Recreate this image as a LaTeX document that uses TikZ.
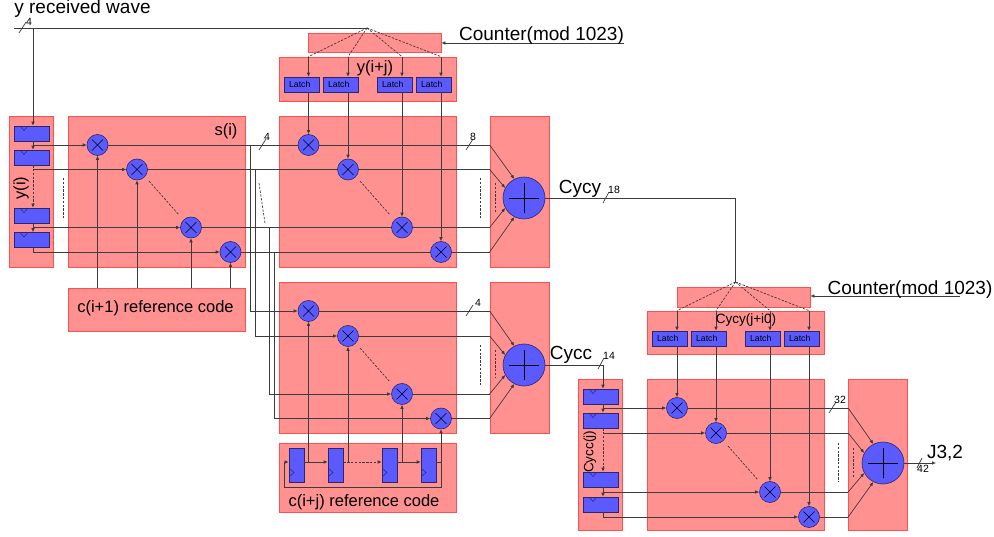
\documentclass[tikz,border=0pt]{standalone}
\usepackage{fontspec}
\setmainfont{Liberation Sans}
\usepackage{xcolor}
\usetikzlibrary{arrows.meta,calc}
\definecolor{blockred}{RGB}{255,145,145}
\definecolor{blockedge}{RGB}{255,80,80}
\definecolor{partblue}{RGB}{90,90,255}
\definecolor{partedge}{RGB}{40,40,110}
\definecolor{wirecol}{RGB}{60,60,60}
\tikzset{
	block/.style={draw=blockedge,fill=blockred,line width=0.7pt,inner sep=0pt},
	wideblock/.style={block,minimum width=177pt,minimum height=151pt},
	sumblock/.style={block,minimum width=59pt,minimum height=151pt},
	stackblock/.style={block,minimum width=44pt,minimum height=151pt},
	part/.style={draw=partedge,fill=partblue,line width=0.6pt,inner sep=0pt},
	latch/.style={part,minimum width=35pt,minimum height=15pt,font=\fontsize{8.7}{9}\selectfont,execute at end node=\hspace*{3.5pt}},
	notchreg/.style={part,minimum width=35pt,minimum height=15pt,
		path picture={\draw[partedge,line width=0.5pt] ($(path picture bounding box.north west)+(6pt,0pt)$) -- ($(path picture bounding box.north west)+(10pt,-4.5pt)$) -- ($(path picture bounding box.north west)+(14pt,0pt)$);}},
	clockreg/.style={part,minimum width=15pt,minimum height=34pt,
		path picture={\draw[partedge,line width=0.5pt] ($(path picture bounding box.south west)+(0pt,14pt)$) -- ($(path picture bounding box.south west)+(5pt,9.5pt)$) -- ($(path picture bounding box.south west)+(0pt,5pt)$);}},
	mult/.style={part,circle,minimum size=21pt,
		path picture={\draw[black,line width=0.6pt,shift={(path picture bounding box.center)}] (-5.5pt,-5.5pt) -- (5.5pt,5.5pt) (-5.5pt,5.5pt) -- (5.5pt,-5.5pt);}},
	summer/.style={part,circle,minimum size=42pt,
		path picture={\draw[black,line width=0.8pt,shift={(path picture bounding box.center)}] (-15pt,0pt) -- (15pt,0pt) (0pt,-15pt) -- (0pt,15pt);}},
	wire/.style={draw=wirecol,line width=0.7pt},
	dotwire/.style={wire,dash pattern=on 2.4pt off 1.4pt},
	arr/.style={wire,-{Latex[length=4pt,width=3.6pt]}},
	dotarr/.style={dotwire,-{Latex[length=4pt,width=3.6pt]}},
	biglabel/.style={inner sep=0pt,font=\fontsize{19}{19}\selectfont},
	midlabel/.style={inner sep=0pt,font=\fontsize{16.5}{17}\selectfont},
	smalllabel/.style={inner sep=0pt,font=\fontsize{13.5}{14}\selectfont},
	numlabel/.style={inner sep=0pt,font=\fontsize{10.5}{11}\selectfont}
}

\begin{document}
\begin{tikzpicture}[x=1pt,y=-1pt]
			\useasboundingbox (0,0) rectangle (994,537);
			\node[stackblock] (BYI) at (31,191.5) {};
			\node[wideblock] (BSI) at (156.5,191.5) {};
			\node[block,minimum width=177pt,minimum height=43pt] (BCA) at (156.5,309.5) {};
			\node[block,minimum width=133pt,minimum height=19pt] (BCTA) at (374.5,42.5) {};
			\node[block,minimum width=177pt,minimum height=44pt] (BYJ) at (367.5,79) {};
			\node[wideblock] (BMB) at (367.5,191.5) {};
			\node[sumblock] (BSB) at (519.5,191.5) {};
			\node[wideblock] (BMC) at (367.5,357.5) {};
			\node[sumblock] (BSC) at (519.5,357.5) {};
			\node[block,minimum width=177pt,minimum height=69pt] (BCB) at (367.5,477.5) {};
			\node[block,minimum width=133pt,minimum height=20pt] (BCTB) at (743.5,297) {};
			\node[block,minimum width=177pt,minimum height=43pt] (BYK) at (735.5,332.5) {};
			\node[stackblock] (BCC) at (600.5,455) {};
			\node[wideblock] (BMD) at (735.5,455) {};
			\node[sumblock] (BSD) at (878,455) {};

			\node[notchreg] (RA1) at (31.5,133.5) {};
			\node[notchreg] (RA2) at (31.5,157.5) {};
			\node[notchreg] (RA3) at (31.5,215.5) {};
			\node[notchreg] (RA4) at (31.5,240) {};
			\node[notchreg] (RD1) at (600.5,396.5) {};
			\node[notchreg] (RD2) at (600.5,420.5) {};
			\node[notchreg] (RD3) at (600.5,479.5) {};
			\node[notchreg] (RD4) at (600.5,504.5) {};

			\node[latch] (LB1) at (301.5,84.5) {Latch};
			\node[latch] (LB2) at (340.5,84.5) {Latch};
			\node[latch] (LB3) at (394.5,84.5) {Latch};
			\node[latch] (LB4) at (433.5,84.5) {Latch};
			\node[latch] (LD1) at (669.5,338.5) {Latch};
			\node[latch] (LD2) at (708.5,338.5) {Latch};
			\node[latch] (LD3) at (762.5,338.5) {Latch};
			\node[latch] (LD4) at (801.5,338.5) {Latch};

			\node[clockreg] (FC1) at (296.5,465) {};
			\node[clockreg] (FC2) at (335.5,465) {};
			\node[clockreg] (FC3) at (389.5,465) {};
			\node[clockreg] (FC4) at (428.5,465) {};

			\node[mult] (MA1) at (97.5,145) {};
			\node[mult] (MA2) at (137,169.5) {};
			\node[mult] (MA3) at (191,227.5) {};
			\node[mult] (MA4) at (230.5,252) {};
			\node[mult] (MB1) at (308.5,145) {};
			\node[mult] (MB2) at (348,169.5) {};
			\node[mult] (MB3) at (402,227.5) {};
			\node[mult] (MB4) at (441,252) {};
			\node[mult] (MC1) at (308.5,311) {};
			\node[mult] (MC2) at (348,336) {};
			\node[mult] (MC3) at (402,394) {};
			\node[mult] (MC4) at (441,418.5) {};
			\node[mult] (MD1) at (677,408) {};
			\node[mult] (MD2) at (716,433) {};
			\node[mult] (MD3) at (770,492) {};
			\node[mult] (MD4) at (809,517) {};

			\node[summer] (SB) at (524,198) {};
			\node[summer] (SC) at (524,365) {};
			\node[summer] (SD) at (883,463) {};

			\coordinate (TL) at (14,28);
			\coordinate (TA) at (33,28);
			\coordinate (FB) at (367,28);
			\coordinate (TD) at (603,365);
			\coordinate (FD) at (735.5,282);
			\coordinate (CY) at (735.5,198);
			\coordinate (CTA) at (624,43);
			\coordinate (CTB) at (960,296);
			\coordinate (VA) at (250,145);
			\coordinate (VB) at (255,169.5);
			\coordinate (VC) at (269.5,227.5);
			\coordinate (VD) at (274.5,252);
			\coordinate (YF) at (284,462);
			\coordinate (YB) at (284,487);
			\coordinate (JO) at (936,463);

			\draw[wire] (TL) -- (FB);
			\draw[arr] (TA) -- (TA |- RA1.north);
			\draw[arr] (TA |- RA1.south) -- (TA |- RA2.north);
			\draw[dotarr] (TA |- RA2.south) -- (TA |- RA3.north);
			\draw[arr] (TA |- RA3.south) -- (TA |- RA4.north);
			\draw[arr] (TA |- MA1) -- (MA1);
			\draw[arr] (TA |- MA2) -- (MA2);
			\draw[arr] (TA |- MA3) -- (MA3);
			\draw[arr] (TA |- RA4.south) |- (MA4);

			\draw[arr] (MA1 |- BCA.north) -- (MA1);
			\draw[arr] (MA2 |- BCA.north) -- (MA2);
			\draw[arr] (MA3 |- BCA.north) -- (MA3);
			\draw[arr] (MA4 |- BCA.north) -- (MA4);

			\draw[wire] (MA1) -- (MB1);
			\draw[wire] (MA2) -- (MB2);
			\draw[wire] (MA3) -- (MB3);
			\draw[wire] (MA4) -- (MB4);
			\draw[arr] (VA) |- (MC1);
			\draw[arr] (VB) |- (MC2);
			\draw[arr] (VC) |- (MC3);
			\draw[arr] (VD) |- (MC4);

			\draw[dotwire] (FB) -- (MB1 |- BYJ.north);
			\draw[dotwire] (FB) -- (MB2 |- BYJ.north);
			\draw[dotwire] (FB) -- (MB3 |- BYJ.north);
			\draw[dotwire] (FB) -- (MB4 |- BYJ.north);
			\draw[arr] (MB1 |- BYJ.north) -- (MB1 |- LB1.north);
			\draw[arr] (MB2 |- BYJ.north) -- (MB2 |- LB2.north);
			\draw[arr] (MB3 |- BYJ.north) -- (MB3 |- LB3.north);
			\draw[arr] (MB4 |- BYJ.north) -- (MB4 |- LB4.north);
			\draw[arr] (MB1 |- LB1.south) -- (MB1);
			\draw[arr] (MB2 |- LB2.south) -- (MB2);
			\draw[arr] (MB3 |- LB3.south) -- (MB3);
			\draw[arr] (MB4 |- LB4.south) -- (MB4);
			\draw[arr] (CTA) -- (BCTA.east |- CTA);

			\draw[wire] (MB1) -- (BSB.west |- MB1);
			\draw[wire] (MB2) -- (BSB.west |- MB2);
			\draw[wire] (MB3) -- (BSB.west |- MB3);
			\draw[wire] (MB4) -- (BSB.west |- MB4);
			\draw[arr] (BSB.west |- MB1) -- (SB.117);
			\draw[arr] (BSB.west |- MB2) -- (SB.152);
			\draw[arr] (BSB.west |- MB3) -- (SB.208);
			\draw[arr] (BSB.west |- MB4) -- (SB.243);
			\draw[wire] (MC1) -- (BSC.west |- MC1);
			\draw[wire] (MC2) -- (BSC.west |- MC2);
			\draw[wire] (MC3) -- (BSC.west |- MC3);
			\draw[wire] (MC4) -- (BSC.west |- MC4);
			\draw[arr] (BSC.west |- MC1) -- (SC.117);
			\draw[arr] (BSC.west |- MC2) -- (SC.152);
			\draw[arr] (BSC.west |- MC3) -- (SC.208);
			\draw[arr] (BSC.west |- MC4) -- (SC.243);

			\draw[arr] (FC1.east |- YF) -- (FC2.west |- YF);
			\draw[dotarr] (FC2.east |- YF) -- (FC3.west |- YF);
			\draw[arr] (FC3.east |- YF) -- (FC4.west |- YF);
			\draw[arr] (MC1 |- YF) -- (MC1);
			\draw[arr] (MC2 |- YF) -- (MC2);
			\draw[arr] (MC3 |- YF) -- (MC3);
			\draw[arr] (MC4 |- YF) -- (MC4);
			\draw[arr] (FC4.east |- YF) -- (MC4 |- YF) |- (YB) |- (FC1.west |- YF);

			\draw[wire] (SB) -- (CY) -- (FD);
			\draw[wire] (SC) -- (TD);
			\draw[arr] (TD) -- (TD |- RD1.north);
			\draw[arr] (TD |- RD1.south) -- (TD |- RD2.north);
			\draw[dotarr] (TD |- RD2.south) -- (TD |- RD3.north);
			\draw[arr] (TD |- RD3.south) -- (TD |- RD4.north);
			\draw[arr] (TD |- MD1) -- (MD1);
			\draw[arr] (TD |- MD2) -- (MD2);
			\draw[arr] (TD |- MD3) -- (MD3);
			\draw[arr] (TD |- RD4.south) |- (MD4);

			\draw[dotwire] (FD) -- (MD1 |- BYK.north);
			\draw[dotwire] (FD) -- (MD2 |- BYK.north);
			\draw[dotwire] (FD) -- (MD3 |- BYK.north);
			\draw[dotwire] (FD) -- (MD4 |- BYK.north);
			\draw[arr] (MD1 |- BYK.north) -- (MD1 |- LD1.north);
			\draw[arr] (MD2 |- BYK.north) -- (MD2 |- LD2.north);
			\draw[arr] (MD3 |- BYK.north) -- (MD3 |- LD3.north);
			\draw[arr] (MD4 |- BYK.north) -- (MD4 |- LD4.north);
			\draw[arr] (MD1 |- LD1.south) -- (MD1);
			\draw[arr] (MD2 |- LD2.south) -- (MD2);
			\draw[arr] (MD3 |- LD3.south) -- (MD3);
			\draw[arr] (MD4 |- LD4.south) -- (MD4);
			\draw[arr] (CTB) -- (BCTB.east |- CTB);

			\draw[wire] (MD1) -- (BSD.west |- MD1);
			\draw[wire] (MD2) -- (BSD.west |- MD2);
			\draw[wire] (MD3) -- (BSD.west |- MD3);
			\draw[wire] (MD4) -- (BSD.west |- MD4);
			\draw[arr] (BSD.west |- MD1) -- (SD.117);
			\draw[arr] (BSD.west |- MD2) -- (SD.152);
			\draw[arr] (BSD.west |- MD3) -- (SD.208);
			\draw[arr] (BSD.west |- MD4) -- (SD.243);
			\draw[arr] (SD) -- (JO);

			\draw[wire] (19,33) -- (26,22);
			\draw[wire] (259,150) -- (266,139);
			\draw[wire] (466,150) -- (473,139);
			\draw[wire] (466,316) -- (473,305);
			\draw[wire] (603,203) -- (609,192);
			\draw[wire] (598,369) -- (604,358);
			\draw[wire] (829,413) -- (836,402);
			\draw[wire] (917,468) -- (922,458);

			\draw[dotwire] (63,178) -- (63,218);
			\draw[dotwire] (149,181) -- (179,215);
			\draw[dotwire] (259,183) -- (265,223);
			\draw[dotwire] (360,181) -- (390,215);
			\draw[dotwire] (480,178) -- (480,218);
			\draw[dotwire] (495,183) -- (495,212);
			\draw[dotwire] (360,348) -- (390,382);
			\draw[dotwire] (480,345) -- (480,385);
			\draw[dotwire] (495,350) -- (495,378);
			\draw[dotwire] (728,446) -- (758,480);
			\draw[dotwire] (838,443) -- (838,482);
			\draw[dotwire] (853,448) -- (853,477);

			\node[biglabel] (TY) at (82.5,9) {y received wave};
			\node[biglabel] (TCA) at (541.5,36) {Counter(mod 1023)};
			\node[biglabel] (TCB) at (910,290) {Counter(mod 1023)};
			\node[midlabel] (TS) at (226,131) {s(i)};
			\node[midlabel] (TYJ) at (375,68) {y(i+j)};
			\node[midlabel,rotate=90] (TYI) at (21,188) {y(i)};
			\node[midlabel] (TCA1) at (155.5,308) {c(i+1) reference code};
			\node[midlabel] (TCB1) at (364,502) {c(i+j) reference code};
			\node[smalllabel] (TYK) at (746,320) {Cycy(j+i0)};
			\node[smalllabel,rotate=90] (TCC) at (590,452) {Cycc(j)};
			\node[biglabel] (TCY) at (580,189) {Cycy};
			\node[biglabel] (TCC1) at (571,355) {Cycc};
			\node[biglabel] (TJ) at (945,453) {J3,2};
			\node[numlabel] (N1) at (29,22) {4};
			\node[numlabel] (N2) at (267,137) {4};
			\node[numlabel] (N3) at (473,137) {8};
			\node[numlabel] (N4) at (478,303) {4};
			\node[numlabel] (N5) at (614,190) {18};
			\node[numlabel] (N6) at (609,356) {14};
			\node[numlabel] (N7) at (840,400) {32};
			\node[numlabel] (N8) at (923,469) {42};
		\end{tikzpicture}
\end{document}
